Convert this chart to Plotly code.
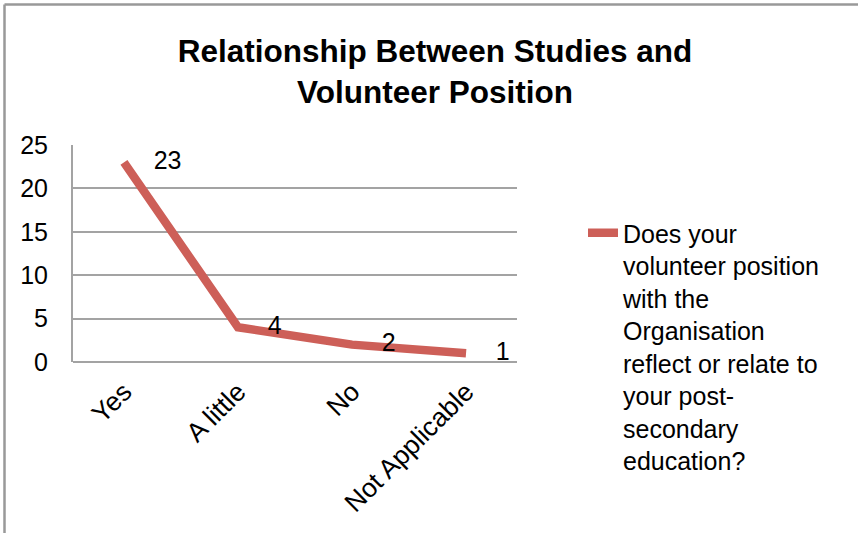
import plotly.graph_objects as go

categories = ["Yes", "A little", "No", "Not Applicable"]
values = [23, 4, 2, 1]
series_name = ("Does your<br>volunteer position<br>with the<br>Organisation<br>"
               "reflect or relate to<br>your post-<br>secondary<br>education?")
title_text = "Relationship Between Studies and<br>Volunteer Position"
y_ticks = [0, 5, 10, 15, 20, 25]

W, H = 858, 533
L, R, T, B = 73, 858 - 517, 145, 533 - 362
pw, ph = W - L - R, H - T - B

def px_x(p):
    return (p - L) / pw

def px_y(p):
    return (H - B - p) / ph

FONT = "Liberation Sans, Arial, Helvetica, sans-serif"
RED = "#CD5F58"
GRID = "#A3A3A3"

fig = go.Figure()
fig.add_trace(go.Scatter(
    x=categories, y=values, name=series_name,
    mode="lines+markers+text",
    line=dict(color=RED, width=8.5),
    marker=dict(size=46, color="rgba(0,0,0,0)"),
    text=[str(v) for v in values],
    textposition="middle right",
    textfont=dict(family=FONT, size=25, color="black"),
    cliponaxis=False,
))

fig.update_layout(
    width=W, height=H,
    margin=dict(l=L, r=R, t=T, b=B, pad=0),
    paper_bgcolor="white", plot_bgcolor="white",
    font=dict(family=FONT, color="black"),
    title=dict(text=title_text, x=0.507, xanchor="center", xref="container",
               y=1 - 62 / H, yanchor="middle", yref="container",
               font=dict(family=FONT, size=31.5, color="black", weight="bold")),
    showlegend=True,
    legend=dict(x=px_x(583), xanchor="left", y=px_y(210), yanchor="top",
                valign="top", maxheight=400,
                font=dict(family=FONT, size=25, color="black"),
                bgcolor="rgba(0,0,0,0)", borderwidth=0),
    xaxis=dict(type="category", showgrid=False, showline=False, zeroline=False,
               tickangle=-45, tickfont=dict(family=FONT, size=26.5, color="black"),
               ticks="", ticklabelstandoff=8, fixedrange=True),
    yaxis=dict(range=[0, 25], tickvals=y_ticks, showgrid=True, gridcolor=GRID,
               gridwidth=2, showline=True, linecolor=GRID, linewidth=2,
               zeroline=True, zerolinecolor=GRID, zerolinewidth=2,
               ticks="", ticklabelstandoff=18,
               tickfont=dict(family=FONT, size=25, color="black"), fixedrange=True),
    shapes=[
        dict(type="line", xref="paper", yref="paper",
             x0=px_x(4.5), x1=px_x(4.5), y0=px_y(4.5), y1=px_y(560),
             line=dict(color="#999999", width=2.5)),
        dict(type="line", xref="paper", yref="paper",
             x0=px_x(4.5), x1=px_x(880), y0=px_y(4.5), y1=px_y(4.5),
             line=dict(color="#999999", width=2.5)),
    ],
)

fig.write_html("out.html", config={"displayModeBar": False},
               post_script="document.body.style.margin='0';")
